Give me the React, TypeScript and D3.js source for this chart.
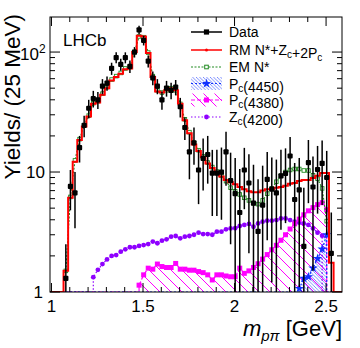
import React, { useEffect, useRef } from 'react';
import * as d3 from 'd3';

// 25 MeV bins, first lower edge
const binLow = 1.066;
const binWidth = 0.025;

// data points (one per bin) and their errors
const dataY = [1.3, 7.6, 6.7, 16, 24.5, 34, 41, 40, 52, 55,
  73, 90, 79, 90, 76, 100, 153, 125, 84, 61,
  52, 40, 50, 48, 51, 35, 23.5, 14.7, 17.5, 10.4,
  13, 14, 9.8, 9.8, 10, 14.7, 8.5, 6.6, 4.6, 10.4,
  8.1, 5.5, 3.2, 5.3, 8.7, 7.2, 6.7, 9.3, 9.75, 13.6,
  5.9, 7.1, 2.4, 12, 7.5, 10.5, 11.8, 9, 2.1];
const dataErr = [1.2, 2.8, 3.3, 4, 5, 6, 6.5, 6.5, 7.5, 7.5,
  8.5, 9.5, 9, 9.5, 9, 10, 12.5, 11.5, 9.5, 8,
  7.5, 7, 7.5, 7.5, 7.5, 6.5, 5, 6, 6, 5,
  6, 6, 5.5, 5.5, 6, 7, 6, 6.5, 6, 5.5,
  6, 6, 5.5, 6, 6, 6, 6, 6, 6, 6,
  6, 6, 5, 6.5, 6, 6, 6.5, 6, 2.5];

// RM N*+Zc+2Pc total fit
const totalFit = [1.5, 6.1, 12.2, 18.5, 24, 29, 37, 38, 44, 50,
  58, 62, 66, 72, 73, 100, 137, 135, 98, 62,
  47, 46, 48, 50, 48, 37, 27, 21, 17, 15,
  13.3, 11.8, 10.8, 10, 9.2, 8.6, 8.2, 7.9, 7.5, 7.2,
  6.9, 6.8, 6.8, 7.0, 7.2, 7.2, 7.4, 7.5, 7.7, 8.0,
  8.1, 8.4, 8.6, 8.6, 8.9, 9.3, 9.8, 9.8, 1.75];

// EM N* (starts at bin 0)
const emStart = 0;
const emNstar = [1.5, 6.2, 12.5, 18.8, 24.5, 29.5, 37.5, 39, 45, 51,
  59, 63, 67, 73, 75, 100, 135, 133, 99, 63,
  48, 46, 48, 50, 48, 37, 27.5, 21.5, 17.5, 15.2,
  13.5, 12, 11, 10.1, 9.3, 8.4, 7.4, 6.9, 6.5, 6.1,
  5.8, 5.5, 5.4, 5.8, 6.6, 7.3, 8.3, 9.3, 10.0, 10.4,
  10.6, 10.6, 10.3, 10.3, 9.4, 8.8, 7.3, 3.9];

// Pc(4380)
const pc4380Start = 16;
const pc4380 = [1.14, 1.39, 1.58, 1.55, 1.71, 1.63, 1.6, 1.6, 1.73, 1.55,
  1.55, 1.52, 1.52, 1.48, 1.45, 1.39, 1.26, 1.39, 1.39, 1.36,
  1.34, 1.34, 1.58, 1.43, 1.5, 1.6, 1.72, 1.88, 2.05, 2.25,
  2.45, 2.7, 3.0, 3.35, 3.7, 4.05, 4.4, 4.75, 5.05, 5.35,
  5.55, 4.85];

// Pc(4450)
const pc4450Start = 51;
const pc4450 = [1.07, 1.3, 1.34, 1.58, 1.9, 2.28, 3.0];

// Zc(4200)
const zcStart = 6;
const zc4200 = [1.33, 1.53, 1.71, 1.87, 2.0, 2.03, 2.17, 2.27, 2.36, 2.36,
  2.42, 2.46, 2.51, 2.63, 2.55, 2.68, 2.75, 2.89, 2.93, 2.8,
  2.89, 2.93, 3.0, 3.12, 3.04, 3.04, 3.0, 3.18, 3.18, 3.33,
  3.39, 3.4, 3.55, 3.62, 3.69, 3.5, 3.73, 3.86, 3.93, 3.93,
  3.98, 4.1, 4.1, 3.98, 3.86, 3.78, 3.73, 3.62, 3.39, 3.12,
  2.95];

const xMajor = [1, 1.5, 2, 2.5];
const xLabels = ['1', '1.5', '2', '2.5'];
const yMajor = [1, 10, 100];

const FONT = "'Liberation Sans', Arial, Helvetica, sans-serif";
const RED = '#ff0000';
const GREEN = '#228b22';
const MAGENTA = '#ff00ff';
const BLUE = '#1030ff';
const PURPLE = '#8f00ff';

export default function App() {
  const ref = useRef<SVGSVGElement>(null);

  useEffect(() => {
    const svg = d3.select(ref.current);
    svg.selectAll('*').remove();

    const L = 50, R = 342, T = 17, B = 292;
    const x = d3.scaleLinear().domain([0.992, 2.587]).range([L, R]);
    const y = d3.scaleLog().domain([1, 196]).range([B, T]).clamp(true);
    const yv = (v: number) => y(Math.max(v, 1));
    const center = (i: number) => binLow + binWidth * (i + 0.5);
    const edge = (i: number) => binLow + binWidth * i;

    const defs = svg.append('defs');
    defs.append('clipPath').attr('id', 'frame')
      .append('rect').attr('x', L).attr('y', T).attr('width', R - L).attr('height', B - T);

    const hm = defs.append('pattern').attr('id', 'hatchM')
      .attr('patternUnits', 'userSpaceOnUse').attr('width', 11).attr('height', 11);
    hm.append('path').attr('d', 'M0,0 L11,11 M-1,10 L1,12 M10,-1 L12,1')
      .attr('stroke', MAGENTA).attr('stroke-width', 1);
    const hb = defs.append('pattern').attr('id', 'hatchB')
      .attr('patternUnits', 'userSpaceOnUse').attr('width', 3.5).attr('height', 3.5);
    hb.append('path').attr('d', 'M0,0 L3.5,3.5 M-1,2.5 L1,4.5 M2.5,-1 L4.5,1')
      .attr('stroke', BLUE).attr('stroke-width', 0.7).attr('opacity', 0.8);

    const plot = svg.append('g').attr('clip-path', 'url(#frame)');

    const seriesPts = (start: number, vals: number[]) => vals.map((v, k) => [x(center(start + k)), yv(v)] as [number, number]);
    const line = d3.line<[number, number]>();

    // hatched components
    const area = d3.area<[number, number]>().x(d => d[0]).y0(B).y1(d => d[1]);
    plot.append('path').attr('d', area(seriesPts(pc4380Start, pc4380)))
      .attr('fill', 'url(#hatchM)');
    plot.append('path').attr('d', area(seriesPts(pc4450Start, pc4450)))
      .attr('fill', 'url(#hatchB)');

    const drawSeries = (start: number, vals: number[], color: string, dash: string, width: number) => {
      const pts = seriesPts(start, vals);
      const full: [number, number][] = [[L, B], [pts[0][0], B], ...pts, [pts[pts.length - 1][0], B], [R, B]];
      plot.append('path').attr('d', line(full)).attr('fill', 'none')
        .attr('stroke', color).attr('stroke-width', width).attr('stroke-dasharray', dash);
      return pts;
    };

    // Zc(4200)
    const zp = drawSeries(zcStart, zc4200, PURPLE, '1.5,2', 1.2);
    plot.append('g').selectAll('circle').data(zp).join('circle')
      .attr('cx', d => d[0]).attr('cy', d => d[1]).attr('r', 2.4).attr('fill', PURPLE);

    // Pc(4380)
    const mp = drawSeries(pc4380Start, pc4380, MAGENTA, '4,2', 1.2);
    plot.append('g').selectAll('rect').data(mp).join('rect')
      .attr('x', d => d[0] - 2.5).attr('y', d => d[1] - 2.5).attr('width', 5).attr('height', 5)
      .attr('fill', MAGENTA);

    // Pc(4450)
    const bp = drawSeries(pc4450Start, pc4450, BLUE, '2,2', 1.2);
    const star = d3.symbol().type(d3.symbolStar).size(28);
    plot.append('g').selectAll('path').data(bp).join('path')
      .attr('d', star).attr('transform', d => `translate(${d[0]},${d[1]})`).attr('fill', BLUE);

    // EM N*
    const gp = seriesPts(emStart, emNstar);
    plot.append('path').attr('d', line(gp)).attr('fill', 'none')
      .attr('stroke', GREEN).attr('stroke-width', 1.2).attr('stroke-dasharray', '2,1.5');
    plot.append('g').selectAll('rect').data(gp).join('rect')
      .attr('x', d => d[0] - 1.8).attr('y', d => d[1] - 1.8).attr('width', 3.6).attr('height', 3.6)
      .attr('fill', 'white').attr('stroke', GREEN).attr('stroke-width', 0.9);

    // total fit histogram
    const steps: [number, number][] = [[L, B]];
    totalFit.forEach((v, i) => steps.push([x(edge(i)), yv(v)]));
    steps.push([x(edge(totalFit.length)), B], [R, B]);
    plot.append('path').attr('d', d3.line<[number, number]>().curve(d3.curveStepAfter)(steps))
      .attr('fill', 'none').attr('stroke', RED).attr('stroke-width', 2);

    // data
    const dg = plot.append('g');
    dataY.forEach((v, i) => {
      const cx = x(center(i));
      dg.append('line').attr('x1', cx).attr('x2', cx)
        .attr('y1', v - dataErr[i] > 0 ? yv(v - dataErr[i]) : B + 2).attr('y2', yv(v + dataErr[i]))
        .attr('stroke', 'black').attr('stroke-width', 1.5);
      dg.append('rect').attr('x', cx - 2.6).attr('y', yv(v) - 2.6).attr('width', 5.2).attr('height', 5.2)
        .attr('rx', 1).attr('fill', 'black');
    });

    // frame and ticks
    const ax = svg.append('g').attr('stroke', 'black').attr('stroke-width', 1);
    ax.append('rect').attr('x', L).attr('y', T).attr('width', R - L).attr('height', B - T).attr('fill', 'none');
    const xMinor = d3.range(10, 26).map(k => k / 10);
    xMinor.forEach(t => {
      const len = xMajor.some(m => Math.abs(m - t) < 1e-6) ? 9 : 5;
      ax.append('line').attr('x1', x(t)).attr('x2', x(t)).attr('y1', B).attr('y2', B - len);
      ax.append('line').attr('x1', x(t)).attr('x2', x(t)).attr('y1', T).attr('y2', T + len);
    });
    const yTicks: number[] = [];
    [1, 10, 100].forEach(dec => d3.range(1, 10).forEach(m => { if (m * dec <= 196) yTicks.push(m * dec); }));
    yTicks.forEach(t => {
      const len = yMajor.includes(t) ? 10 : 5;
      ax.append('line').attr('x1', L).attr('x2', L + len).attr('y1', y(t)).attr('y2', y(t));
      ax.append('line').attr('x1', R).attr('x2', R - len).attr('y1', y(t)).attr('y2', y(t));
    });

    const txt = svg.append('g').attr('font-family', FONT).attr('fill', 'black');
    xMajor.forEach((t, i) => {
      txt.append('text').attr('x', x(t)).attr('y', 312).attr('text-anchor', 'middle')
        .attr('font-size', 17).text(xLabels[i]);
    });
    txt.append('text').attr('x', 43).attr('y', y(1) + 6).attr('text-anchor', 'end').attr('font-size', 17).text('1');
    txt.append('text').attr('x', 45).attr('y', y(10) + 6).attr('text-anchor', 'end').attr('font-size', 17).text('10');
    const t100 = txt.append('text').attr('x', 20).attr('y', y(100) + 8).attr('font-size', 17);
    t100.append('tspan').text('10');
    t100.append('tspan').attr('dy', -7).attr('font-size', 12).text('2');

    // axis titles
    const xt = txt.append('text').attr('x', 342).attr('y', 336).attr('text-anchor', 'end').attr('font-size', 22);
    xt.append('tspan').attr('font-style', 'italic').text('m');
    xt.append('tspan').attr('font-style', 'italic').attr('font-size', 15).attr('dy', 5).text('pπ');
    xt.append('tspan').attr('dy', -5).text(' [GeV]');
    txt.append('text').attr('transform', 'translate(20,14) rotate(-90)').attr('text-anchor', 'end')
      .attr('font-size', 22.5).text('Yields/ (25 MeV)');

    txt.append('text').attr('x', 63).attr('y', 46).attr('font-size', 17).text('LHCb');

    // legend
    const lg = svg.append('g');
    const lx0 = 191, lx1 = 222, lmid = 206.5, ltx = 229;
    const rows = [32, 50, 67, 83.5, 100, 117];
    const label = (yy: number, parts: [string, boolean][]) => {
      const t = lg.append('text').attr('x', ltx).attr('y', yy + 5).attr('font-family', FONT).attr('font-size', 14);
      parts.forEach(([s, sub]) => {
        t.append('tspan').attr('font-size', sub ? 10 : 14).attr('dy', sub ? 3 : 0).text(s);
        if (sub) t.append('tspan').attr('dy', -3).text('');
      });
    };
    // Data
    lg.append('line').attr('x1', lx0).attr('x2', lx1).attr('y1', rows[0]).attr('y2', rows[0]).attr('stroke', 'black').attr('stroke-width', 1.5);
    lg.append('rect').attr('x', lmid - 2.6).attr('y', rows[0] - 2.6).attr('width', 5.2).attr('height', 5.2).attr('fill', 'black');
    label(rows[0], [['Data', false]]);
    // RM
    lg.append('line').attr('x1', lx0).attr('x2', lx1).attr('y1', rows[1]).attr('y2', rows[1]).attr('stroke', RED).attr('stroke-width', 1.5);
    lg.append('circle').attr('cx', lmid).attr('cy', rows[1]).attr('r', 1.5).attr('fill', RED);
    label(rows[1], [['RM N*+Z', false], ['c', true], ['+2P', false], ['c', true]]);
    // EM
    lg.append('line').attr('x1', lx0).attr('x2', lx1).attr('y1', rows[2]).attr('y2', rows[2]).attr('stroke', GREEN).attr('stroke-width', 1.2).attr('stroke-dasharray', '2,1.5');
    lg.append('rect').attr('x', lmid - 1.8).attr('y', rows[2] - 1.8).attr('width', 3.6).attr('height', 3.6).attr('fill', 'white').attr('stroke', GREEN);
    label(rows[2], [['EM N*', false]]);
    // Pc(4450)
    lg.append('rect').attr('x', lx0).attr('y', rows[3] - 6.5).attr('width', lx1 - lx0).attr('height', 13).attr('fill', 'url(#hatchB)');
    lg.append('line').attr('x1', lx0).attr('x2', lx1).attr('y1', rows[3]).attr('y2', rows[3]).attr('stroke', BLUE).attr('stroke-width', 1.2).attr('stroke-dasharray', '2,2');
    lg.append('path').attr('d', star).attr('transform', `translate(${lmid},${rows[3]})`).attr('fill', BLUE);
    label(rows[3], [['P', false], ['c', true], ['(4450)', false]]);
    // Pc(4380)
    lg.append('rect').attr('x', lx0).attr('y', rows[4] - 6.5).attr('width', lx1 - lx0).attr('height', 13).attr('fill', 'url(#hatchM)');
    lg.append('line').attr('x1', lx0).attr('x2', lx1).attr('y1', rows[4]).attr('y2', rows[4]).attr('stroke', MAGENTA).attr('stroke-width', 1.2).attr('stroke-dasharray', '4,2');
    lg.append('rect').attr('x', lmid - 2.5).attr('y', rows[4] - 2.5).attr('width', 5).attr('height', 5).attr('fill', MAGENTA);
    label(rows[4], [['P', false], ['c', true], ['(4380)', false]]);
    // Zc(4200)
    lg.append('line').attr('x1', lx0).attr('x2', lx1).attr('y1', rows[5]).attr('y2', rows[5]).attr('stroke', PURPLE).attr('stroke-width', 1.2).attr('stroke-dasharray', '1.5,2');
    lg.append('circle').attr('cx', lmid).attr('cy', rows[5]).attr('r', 2.4).attr('fill', PURPLE);
    label(rows[5], [['Z', false], ['c', true], ['(4200)', false]]);
  }, []);

  return (
    <svg ref={ref} width={360} height={348}
      style={{ position: 'absolute', left: 0, top: 0, background: '#fff' }} />
  );
}
